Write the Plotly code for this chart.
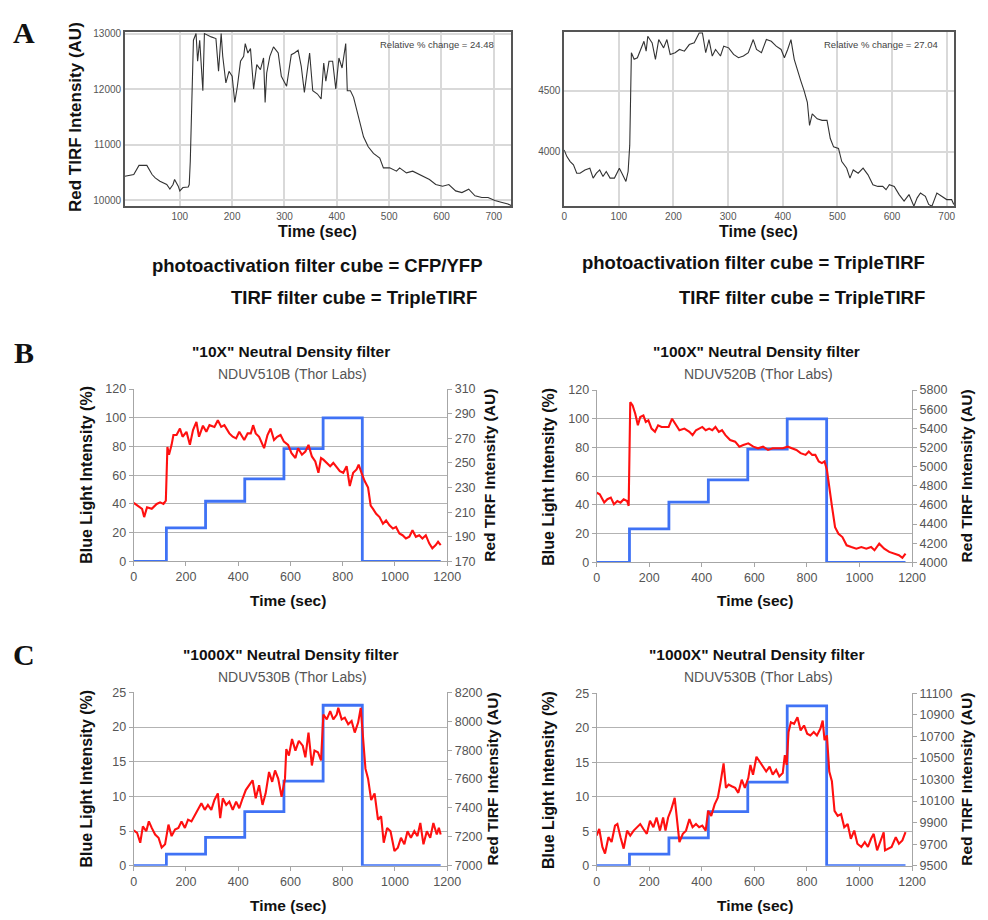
import plotly.graph_objects as go

# ---------------- DATA ----------------
# Panel A (left): CFP/YFP photoactivation cube
a1_t = [-5, 12, 22, 37, 47, 53, 62, 75, 81, 87, 90, 97, 100, 106, 116, 118, 120, 124, 126, 131, 134, 138, 141, 144,
        147, 153, 160, 169, 174, 179, 182, 188, 194, 200, 205, 210, 216, 222, 225, 230, 235, 241, 247, 254, 260, 263,
        266, 272, 279, 288, 294, 304, 313, 319, 326, 332, 338, 348, 354, 363, 370, 375, 379, 385, 392, 398, 404, 410,
        417, 420, 426, 432, 439, 445, 451, 460, 470, 482, 489, 501, 514, 520, 533, 545, 558, 577, 589, 602, 614, 627,
        639, 652, 664, 677, 689, 702, 714, 727, 733]
a1_v = [10430, 10460, 10625, 10625, 10460, 10400, 10340, 10280, 10200, 10280, 10370, 10250, 10165, 10225, 10235,
        10280, 10700, 12320, 12880, 13000, 12500, 12880, 12350, 11970, 13000, 12970, 12940, 12910, 12320, 13000,
        12590, 12110, 12320, 12230, 11760, 12050, 12500, 12590, 12820, 12650, 12730, 12000, 12440, 12350, 12560,
        11760, 12290, 12590, 12760, 12650, 12230, 12050, 12620, 12650, 12700, 12410, 11940, 12650, 11970, 11910,
        11820, 12470, 12140, 12500, 12500, 12000, 12560, 12380, 12820, 11970, 11970, 11850, 11580, 11375, 11140,
        10960, 10840, 10755, 10580, 10580, 10520, 10580, 10490, 10520, 10460, 10370, 10280, 10250, 10280, 10165,
        10135, 10195, 10075, 10045, 10045, 9990, 9960, 9930, 9900]

# Panel A (right): TripleTIRF photoactivation cube
a2_t = [0, 5, 11, 17, 23, 29, 38, 47, 53, 59, 65, 71, 77, 84, 92, 101, 107, 113, 117, 120, 123, 128, 134, 140, 146,
        150, 153, 161, 167, 173, 182, 188, 194, 203, 211, 220, 229, 238, 247, 253, 259, 265, 271, 277, 286, 292, 301,
        310, 319, 328, 337, 346, 352, 361, 370, 379, 388, 397, 403, 409, 415, 421, 427, 433, 439, 445, 449, 454, 463,
        472, 481, 487, 493, 502, 508, 517, 523, 529, 538, 547, 556, 565, 574, 583, 589, 595, 604, 613, 622, 631, 640,
        646, 652, 661, 667, 673, 682, 691, 700, 709, 713]
a2_v = [4014, 3960, 3919, 3892, 3824, 3824, 3851, 3865, 3784, 3824, 3851, 3797, 3838, 3784, 3784, 3865, 3811, 3757,
        3838, 4054, 4811, 4757, 4770, 4838, 4905, 4824, 4946, 4892, 4757, 4919, 4851, 4919, 4797, 4811, 4838, 4824,
        4878, 4892, 4973, 4973, 4811, 4919, 4784, 4838, 4784, 4865, 4851, 4797, 4770, 4784, 4811, 4919, 4838, 4811,
        4919, 4905, 4865, 4838, 4770, 4838, 4919, 4757, 4662, 4581, 4500, 4405, 4216, 4311, 4270, 4257, 4257, 4108,
        4040, 4027, 3919, 3865, 3784, 3851, 3824, 3865, 3811, 3730, 3716, 3716, 3689, 3730, 3716, 3649, 3595, 3649,
        3554, 3622, 3662, 3635, 3568, 3554, 3662, 3635, 3608, 3608, 3568]

# Blue light steps (shared time points)
step_t = [0, 125, 275, 425, 575, 725, 875, 1175]
blue_bc_10x = [0, 23.3, 41.9, 57.5, 78.6, 100, 0, 0]
blue_bc_100x = [0, 23.4, 42, 57.5, 78.9, 100, 0, 0]
blue_c1 = [0, 1.66, 4.1, 7.8, 12.2, 23.15, 0, 0]
blue_c2 = [0, 1.67, 4.05, 7.86, 12.14, 23.2, 0, 0]

# Panel B (left) red TIRF
b1_t = [0, 15, 32, 40, 51, 69, 88, 101, 114, 123, 129, 135, 145, 152, 164, 177, 187, 202, 215, 227, 240, 250, 265,
        278, 290, 309, 322, 335, 347, 366, 379, 392, 404, 423, 436, 448, 457, 467, 480, 499, 512, 524, 537, 549, 562,
        575, 591, 604, 619, 629, 644, 657, 669, 682, 695, 707, 717, 726, 739, 752, 764, 777, 789, 802, 815, 827, 840,
        853, 861, 872, 884, 897, 907, 916, 928, 941, 954, 966, 979, 992, 1004, 1017, 1029, 1042, 1055, 1067, 1080,
        1093, 1105, 1118, 1131, 1143, 1156, 1165, 1175]
b1_v = [217.5, 215, 212.7, 206, 214, 212.7, 216.7, 218, 216.7, 219.3, 263, 256.7, 264.7, 272.7, 272.7, 278, 271.3,
        275.3, 264.7, 276.7, 283.3, 271.3, 280.3, 275.3, 280.7, 279.3, 284.7, 279.3, 280.7, 274, 271.3, 270, 275.3,
        268.7, 274, 274, 280.7, 274, 271.3, 262, 272.7, 278, 268.7, 271.3, 272.7, 267.3, 264.7, 258, 254, 262, 256.7,
        259.3, 264.7, 255.3, 251.3, 242, 254, 252.7, 250, 247.3, 250, 246, 243.3, 242, 247.3, 231.3, 242, 244.7,
        248.7, 242, 235.3, 230, 215.3, 212.7, 208.7, 206, 200.7, 203.3, 199.3, 196.7, 198, 192.7, 191.3, 188.7, 190,
        195.3, 190, 191.3, 188.7, 191.3, 184.7, 180.7, 183.3, 186, 183.3]

# Panel B (right) red TIRF
b2_t = [0, 12, 29, 41, 54, 66, 79, 91, 103, 116, 122, 128, 137, 147, 157, 166, 178, 187, 197, 209, 222, 234, 247,
        262, 274, 287, 299, 315, 334, 353, 365, 378, 390, 402, 415, 428, 440, 452, 465, 477, 490, 508, 527, 543, 558,
        577, 596, 614, 633, 652, 670, 689, 708, 727, 745, 760, 776, 795, 807, 820, 832, 845, 857, 867, 876, 882, 895,
        907, 920, 935, 951, 969, 988, 1007, 1026, 1044, 1057, 1075, 1094, 1113, 1132, 1150, 1163, 1175]
b2_v = [4728, 4711, 4625, 4660, 4677, 4608, 4642, 4625, 4660, 4642, 4591, 5673, 5639, 5553, 5432, 5518, 5535, 5467,
        5484, 5398, 5364, 5432, 5415, 5415, 5415, 5501, 5450, 5381, 5398, 5364, 5329, 5381, 5398, 5415, 5381, 5398,
        5381, 5415, 5364, 5381, 5329, 5278, 5261, 5209, 5226, 5244, 5209, 5192, 5209, 5175, 5192, 5192, 5192, 5209,
        5192, 5175, 5141, 5123, 5158, 5123, 5123, 5055, 5037, 5055, 4969, 4831, 4591, 4368, 4299, 4265, 4179, 4161,
        4144, 4161, 4144, 4161, 4127, 4196, 4144, 4110, 4093, 4076, 4048, 4093]

# Panel C (left) red TIRF
c1_t = [0, 13, 25, 35, 48, 58, 69, 82, 95, 107, 120, 133, 145, 158, 171, 183, 196, 208, 221, 234, 246, 259, 272, 284,
        297, 309, 322, 331, 341, 354, 366, 379, 392, 404, 417, 429, 442, 455, 467, 480, 493, 505, 518, 530, 541, 553,
        566, 579, 584, 594, 606, 619, 632, 647, 657, 669, 682, 692, 705, 717, 726, 739, 752, 764, 777, 783, 796, 808,
        821, 834, 846, 859, 869, 878, 887, 897, 909, 922, 935, 947, 957, 970, 983, 998, 1011, 1023, 1036, 1048, 1061,
        1074, 1086, 1097, 1109, 1122, 1135, 1147, 1160, 1168, 1175]
c1_v = [7244, 7228, 7159, 7273, 7239, 7307, 7262, 7216, 7194, 7125, 7148, 7285, 7205, 7250, 7262, 7307, 7262, 7319,
        7307, 7353, 7387, 7433, 7387, 7421, 7387, 7455, 7501, 7330, 7467, 7421, 7444, 7387, 7444, 7398, 7467, 7524,
        7558, 7592, 7467, 7558, 7421, 7501, 7649, 7581, 7660, 7603, 7478, 7603, 7808, 7763, 7877, 7797, 7865, 7831,
        7751, 7922, 7694, 7797, 7786, 7729, 8047, 8013, 8070, 8013, 8047, 8093, 8013, 8025, 7979, 8002, 7922, 7991,
        8093, 7900, 7672, 7603, 7455, 7501, 7319, 7342, 7159, 7262, 7239, 7102, 7125, 7194, 7148, 7239, 7194, 7239,
        7205, 7296, 7148, 7239, 7194, 7296, 7216, 7262, 7216]

# Panel C (right) red TIRF
c2_t = [0, 10, 22, 32, 45, 57, 70, 79, 91, 103, 116, 128, 141, 153, 166, 178, 191, 203, 216, 228, 241, 253, 262, 272,
        284, 297, 307, 315, 328, 340, 353, 365, 378, 390, 402, 415, 424, 436, 449, 461, 471, 483, 492, 502, 514, 527,
        539, 552, 564, 577, 585, 595, 608, 620, 633, 645, 658, 670, 683, 695, 708, 716, 723, 730, 739, 751, 764, 776,
        789, 801, 813, 826, 838, 851, 860, 867, 876, 885, 895, 905, 917, 930, 942, 955, 967, 980, 992, 1007, 1020,
        1032, 1044, 1054, 1067, 1079, 1092, 1097, 1109, 1122, 1138, 1150, 1163, 1175]
c2_v = [9780, 9841, 9674, 9613, 9765, 9720, 9872, 9887, 9765, 9659, 9826, 9780, 9826, 9857, 9887, 9841, 9796, 9918,
        9857, 9948, 9826, 9948, 9826, 9948, 10024, 10131, 9918, 9720, 9796, 9826, 9933, 9857, 9887, 9857, 9872, 9826,
        10009, 9963, 10070, 10131, 10268, 10451, 10223, 10253, 10238, 10223, 10177, 10299, 10223, 10314, 10436, 10345,
        10512, 10466, 10421, 10375, 10421, 10345, 10390, 10329, 10360, 10527, 10436, 10741, 10832, 10817, 10878,
        10756, 10802, 10726, 10710, 10741, 10710, 10771, 10848, 10665, 10710, 10375, 10284, 10009, 9963, 9979, 9857,
        9887, 9750, 9826, 9704, 9674, 9720, 9674, 9750, 9796, 9643, 9720, 9811, 9643, 9659, 9674, 9765, 9704, 9735,
        9811]

# Axis ticks / ranges
bc_x_ticks = [0, 200, 400, 600, 800, 1000, 1200]
b_left_ticks = [0, 20, 40, 60, 80, 100, 120]
b1_right_ticks = [170, 190, 210, 230, 250, 270, 290, 310]
b2_right_ticks = [4000, 4200, 4400, 4600, 4800, 5000, 5200, 5400, 5600, 5800]
c_left_ticks = [0, 5, 10, 15, 20, 25]
c1_right_ticks = [7000, 7200, 7400, 7600, 7800, 8000, 8200]
c2_right_ticks = [9500, 9700, 9900, 10100, 10300, 10500, 10700, 10900, 11100]
a1_x_ticks = [100, 200, 300, 400, 500, 600, 700]
a2_x_ticks = [0, 100, 200, 300, 400, 500, 600, 700]
a1_y_ticks = [10000, 11000, 12000, 13000]
a2_y_ticks = [4000, 4500]

titles = ['"10X" Neutral Density filter', '"100X" Neutral Density filter',
          '"1000X" Neutral Density filter', '"1000X" Neutral Density filter']
subtitles = ["NDUV510B (Thor Labs)", "NDUV520B (Thor Labs)", "NDUV530B (Thor Labs)", "NDUV530B (Thor Labs)"]

# ---------------- LAYOUT HELPERS ----------------
W, H = 988, 920
FONT = "Liberation Sans, Arial, sans-serif"
RED = "#ff1010"
BLUE = "#3f72f5"


def px(x):
    return x / W


def py(y):
    return 1 - y / H


fig = go.Figure()
layout = dict(width=W, height=H, margin=dict(l=0, r=0, t=0, b=0), paper_bgcolor="white",
              plot_bgcolor="white", showlegend=False)
annotations = []


def ann(text, x, y, size, bold=False, color="#111", angle=0, xanchor="center", family=FONT):
    annotations.append(dict(text=("<b>%s</b>" % text) if bold else text, x=px(x), y=py(y), xref="paper",
                            yref="paper", showarrow=False, xanchor=xanchor, yanchor="middle", textangle=angle,
                            font=dict(size=size, color=color, family=family)))


# ---------------- PANEL A ----------------
a_panels = [
    dict(t=a1_t, v=a1_v, xd=(124, 517), xr=[-5, 733], xt=a1_x_ticks, yr=[9894, 13035], yt=a1_y_ticks,
         note="Relative % change = 24.48", notex=442),
    dict(t=a2_t, v=a2_v, xd=(571, 968), xr=[0, 714], xt=a2_x_ticks, yr=[3556, 4984], yt=a2_y_ticks,
         note="Relative % change = 27.04", notex=893),
]
afont = dict(size=10, color="#555", family=FONT)
idx = 1
for p in a_panels:
    xa = "x%d" % idx if idx > 1 else "x"
    ya = "y%d" % idx if idx > 1 else "y"
    fig.add_trace(go.Scatter(x=p["t"], y=p["v"], mode="lines", line=dict(color="#333333", width=1.1),
                             xaxis=xa, yaxis=ya))
    kx = "xaxis%d" % idx if idx > 1 else "xaxis"
    ky = "yaxis%d" % idx if idx > 1 else "yaxis"
    layout[kx] = dict(domain=[px(p["xd"][0]), px(p["xd"][1])], range=p["xr"], tickvals=p["xt"], anchor=ya,
                      showgrid=True, gridcolor="#d9d9d9", gridwidth=1.5, showline=True, linecolor="#555",
                      linewidth=1.5, mirror=True, ticks="", zeroline=False, tickformat="d", tickfont=afont)
    layout[ky] = dict(domain=[py(202), py(25)], range=p["yr"], tickvals=p["yt"], anchor=xa,
                      showgrid=True, gridcolor="#d9d9d9", gridwidth=1.5, showline=True, linecolor="#555",
                      linewidth=1.5, mirror=True, ticks="", zeroline=False, tickformat="d", tickfont=afont)
    ann(p["note"], p["notex"], 38, 9.5, color="#444")
    idx += 1

ann("Red TIRF Intensity (AU)", 74, 112, 17, bold=True, angle=-90)
ann("Time (sec)", 320, 228, 16, bold=True)
ann("Time (sec)", 769, 228, 16, bold=True)
ann("photoactivation filter cube = CFP/YFP", 489, 263, 18.5, bold=True, xanchor="right")
ann("TIRF filter cube = TripleTIRF", 484, 295, 18.5, bold=True, xanchor="right")
ann("photoactivation filter cube = TripleTIRF", 940, 259, 18.5, bold=True, xanchor="right")
ann("TIRF filter cube = TripleTIRF", 940, 295, 18.5, bold=True, xanchor="right")

# ---------------- PANELS B & C ----------------
bc_panels = [
    dict(t=b1_t, v=b1_v, blue=blue_bc_10x, xd=(133, 452), yd=(388, 563), lr=[0, 120], lt=b_left_ticks,
         rr=[170, 310], rt=b1_right_ticks, cx=293, ty=350, ylx=85, yrx=495, tx=290, txy=603),
    dict(t=b2_t, v=b2_v, blue=blue_bc_100x, xd=(604, 925), yd=(389, 564), lr=[0, 120], lt=b_left_ticks,
         rr=[4000, 5800], rt=b2_right_ticks, cx=767, ty=350, ylx=555, yrx=980, tx=765, txy=603),
    dict(t=c1_t, v=c1_v, blue=blue_c1, xd=(133, 452), yd=(696, 872), lr=[0, 25], lt=c_left_ticks,
         rr=[7000, 8200], rt=c1_right_ticks, cx=293, ty=657, ylx=85, yrx=498, tx=290, txy=912),
    dict(t=c2_t, v=c2_v, blue=blue_c2, xd=(604, 925), yd=(697, 872), lr=[0, 25], lt=c_left_ticks,
         rr=[9500, 11100], rt=c2_right_ticks, cx=767, ty=657, ylx=555, yrx=980, tx=765, txy=912),
]

tickfont = dict(size=12.5, color="#555", family=FONT)
yidx = 3
for i, p in enumerate(bc_panels):
    xnum = 3 + i
    xa = "x%d" % xnum
    yl = "y%d" % yidx
    yr = "y%d" % (yidx + 1)
    fig.add_trace(go.Scatter(x=step_t, y=p["blue"], mode="lines", line=dict(color=BLUE, width=2.8, shape="hv"),
                             xaxis=xa, yaxis=yl))
    fig.add_trace(go.Scatter(x=p["t"], y=p["v"], mode="lines", line=dict(color=RED, width=2.1),
                             xaxis=xa, yaxis=yr))
    layout["xaxis%d" % xnum] = dict(domain=[px(p["xd"][0]), px(p["xd"][1])], range=[0, 1200],
                                    tickvals=bc_x_ticks, anchor=yl, showgrid=False, showline=True,
                                    linecolor="#a6a6a6", linewidth=1, ticks="outside", ticklen=4,
                                    tickcolor="#a6a6a6", zeroline=False, tickformat="d", tickfont=tickfont)
    layout["yaxis%d" % yidx] = dict(domain=[py(p["yd"][1]), py(p["yd"][0])], range=p["lr"], tickvals=p["lt"],
                                    anchor=xa, showgrid=True, gridcolor="#b3b3b3", gridwidth=1, showline=True,
                                    linecolor="#a6a6a6", linewidth=1, ticks="outside", ticklen=4,
                                    tickcolor="#a6a6a6", zeroline=False, tickformat="d", tickfont=tickfont)
    layout["yaxis%d" % (yidx + 1)] = dict(overlaying=yl, side="right", anchor=xa, range=p["rr"],
                                          tickvals=p["rt"], showgrid=False, showline=True, linecolor="#a6a6a6",
                                          linewidth=1, ticks="outside", ticklen=4, tickcolor="#a6a6a6",
                                          zeroline=False, tickformat="d", tickfont=tickfont)
    ann(titles[i], p["cx"], p["ty"], 15.5, bold=True)
    ann(subtitles[i], p["cx"] + 2, p["ty"] + 23, 14, color="#555")
    ann("Blue Light Intensity (%)", p["ylx"], (p["yd"][0] + p["yd"][1]) / 2, 16, bold=True, angle=-90)
    ann("Red TIRF Intensity (AU)", p["yrx"], (p["yd"][0] + p["yd"][1]) / 2, 15.5, bold=True, angle=-90)
    ann("Time (sec)", p["tx"], p["txy"], 15.5, bold=True)
    yidx += 2

# Panel letters
SERIF = "Liberation Serif, Times New Roman, serif"
ann("A", 21, 26, 30, bold=True, family=SERIF)
ann("B", 21, 351, 30, bold=True, family=SERIF)
ann("C", 21, 658, 30, bold=True, family=SERIF)

layout["annotations"] = annotations
fig.update_layout(**layout)
fig.write_html("out.html", config={"displayModeBar": False},
               post_script="document.body.style.margin='0';document.body.style.overflow='hidden';")
